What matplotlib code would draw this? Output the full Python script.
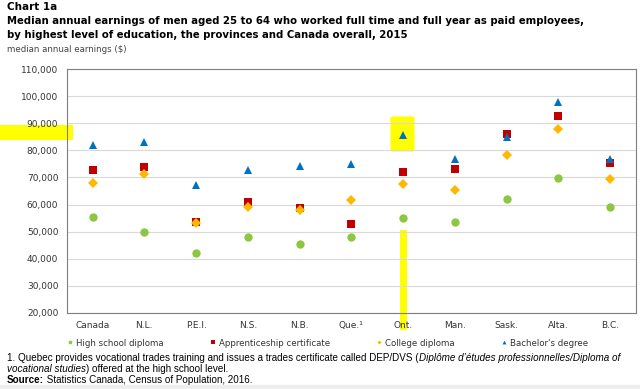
import matplotlib.pyplot as plt
import matplotlib.patches as mpatches
from matplotlib.ticker import FuncFormatter

regions = ['Canada', 'N.L.', 'P.E.I.', 'N.S.', 'N.B.', 'Que.¹', 'Ont.', 'Man.', 'Sask.', 'Alta.', 'B.C.']

high_school = [55500, 50000, 42100, 48100, 45500, 48100, 55000, 53500, 62000, 69700, 59100]
apprenticeship = [72900, 73700, 53600, 61000, 58600, 52900, 72100, 73000, 86000, 92600, 75200]
college = [68100, 71300, 53000, 59200, 58000, 61500, 67700, 65400, 78300, 87900, 69400]
bachelor = [81900, 83100, 67100, 72900, 74100, 75000, 85600, 76800, 85000, 97900, 76900]

series = [
    ('High school diploma', high_school, 'o', '#8DC63F', 6),
    ('Apprenticeship certificate', apprenticeship, 's', '#C00000', 5.6),
    ('College diploma', college, 'D', '#FFB800', 4.6),
    ('Bachelor\'s degree', bachelor, '^', '#0070C0', 6.2),
]

W, H = 640, 389
fig = plt.figure(figsize=(W / 100, H / 100), dpi=100)
ax = fig.add_axes([66.7 / W, 1 - 312.7 / H, (636 - 66.7) / W, (312.7 - 69.3) / H])
ax.set_facecolor('none')

xs = range(len(regions))
for name, vals, marker, color, size in series:
    ax.plot(xs, vals, linestyle='none', marker=marker, color=color,
            markersize=size, markeredgewidth=0, label=name, zorder=3)

ax.set_xlim(-0.5, len(regions) - 0.5)
ax.set_ylim(20000, 110000)
ax.set_yticks(range(20000, 110001, 10000))
ax.yaxis.set_major_formatter(FuncFormatter(lambda v, p: f'{int(v):,}'))
ax.set_xticks(list(xs))
ax.set_xticklabels(regions)
ax.tick_params(length=0, labelsize=6.5, colors='#333333', pad=6)
ax.grid(axis='y', color='#D9D9D9', linewidth=0.8)
ax.set_axisbelow(True)
for s in ax.spines.values():
    s.set_color('#7F7F7F')
    s.set_linewidth(0.8)

fig.legend(loc='center left', bbox_to_anchor=(68 / W, 1 - 343 / H), ncol=4,
           frameon=False, fontsize=6.25, markerscale=0.45, handlelength=0.5,
           handletextpad=0.45, columnspacing=5.4, borderaxespad=0, borderpad=0,
           labelcolor='#333333')

fig.text(7 / W, 1 - 7 / H, 'Chart 1a', fontsize=7.5, fontweight='bold', va='center')
fig.text(7 / W, 1 - 21 / H, 'Median annual earnings of men aged 25 to 64 who worked full time and full year as paid employees,',
         fontsize=7.3, fontweight='bold', va='center')
fig.text(7 / W, 1 - 35 / H, 'by highest level of education, the provinces and Canada overall, 2015',
         fontsize=7.3, fontweight='bold', va='center')
fig.text(7 / W, 1 - 50 / H, 'median annual earnings ($)', fontsize=6.2, color='#444444', va='center')

foot = 'Liberation Sans'


# footnote with italic parts, laid out piece by piece
def run(parts, y):
    fig.canvas.draw()
    r = fig.canvas.get_renderer()
    x = 7
    for txt, style, weight in parts:
        t = fig.text(x / W, 1 - y / H, txt, fontsize=7.1, family=foot, style=style,
                     weight=weight, va='center')
        x += t.get_window_extent(r).width


run([('1. Quebec provides vocational trades training and issues a trades certificate called DEP/DVS (', 'normal', 'normal'),
     ('Diplôme d\u2019études professionnelles/Diploma of', 'italic', 'normal')], 358)
run([('vocational studies', 'italic', 'normal'),
     (') offered at the high school level.', 'normal', 'normal')], 369)
run([('Source:', 'normal', 'bold'),
     (' Statistics Canada, Census of Population, 2016.', 'normal', 'normal')], 380)

# grey strip at bottom and highlighter marks on the screenshot
fig.patches.append(mpatches.Rectangle((0, 0), 1, 4 / H, transform=fig.transFigure,
                                      color='#EEEEEE', zorder=-2))
hl = dict(transform=fig.transFigure, color='#FFFF00', zorder=-1, linewidth=0)
fig.patches.append(mpatches.Rectangle((0, 1 - 140 / H), 73 / W, 15 / H, **hl))
fig.patches.append(mpatches.FancyBboxPatch((393 / W, 1 - 150 / H), 19 / W, 32 / H,
                                           boxstyle='round,pad=0.004', **hl))
fig.patches.append(mpatches.Rectangle((400 / W, 1 - 330 / H), 7 / W, 100 / H, **hl))

fig.savefig('out.png', dpi=100)
